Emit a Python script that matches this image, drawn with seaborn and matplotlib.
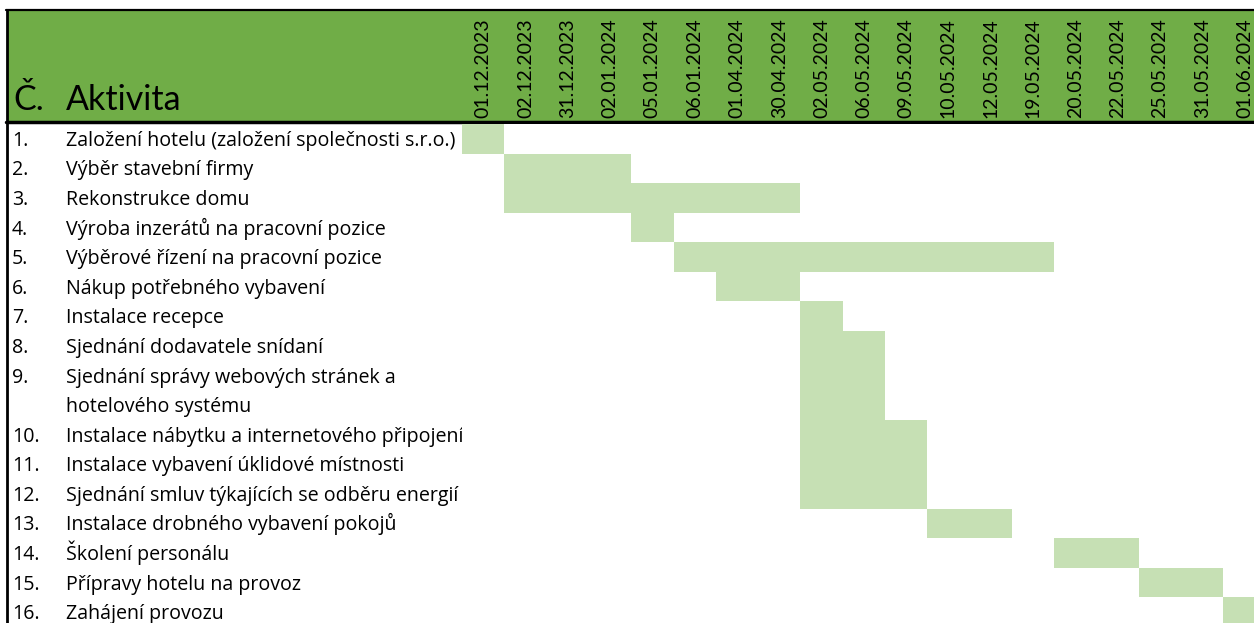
import matplotlib
matplotlib.use("Agg")
import matplotlib.pyplot as plt
import numpy as np
import pandas as pd
import seaborn as sns
from matplotlib.colors import ListedColormap
from matplotlib.patches import Rectangle
from matplotlib.lines import Line2D
from matplotlib.transforms import blended_transform_factory

# ---- schedule data -------------------------------------------------------
dates = ["01.12.2023", "02.12.2023", "31.12.2023", "02.01.2024", "05.01.2024",
         "06.01.2024", "01.04.2024", "30.04.2024", "02.05.2024", "06.05.2024",
         "09.05.2024", "10.05.2024", "12.05.2024", "19.05.2024", "20.05.2024",
         "22.05.2024", "25.05.2024", "31.05.2024", "01.06.2024"]

numbers = [f"{i}." for i in range(1, 17)]

activities = [
    "Založení hotelu (založení společnosti s.r.o.)",
    "Výběr stavební firmy",
    "Rekonstrukce domu",
    "Výroba inzerátů na pracovní pozice",
    "Výběrové řízení na pracovní pozice",
    "Nákup potřebného vybavení",
    "Instalace recepce",
    "Sjednání dodavatele snídaní",
    "Sjednání správy webových stránek a\nhotelového systému",
    "Instalace nábytku a internetového připojení",
    "Instalace vybavení úklidové místnosti",
    "Sjednání smluv týkajících se odběru energií",
    "Instalace drobného vybavení pokojů",
    "Školení personálu",
    "Přípravy hotelu na provoz",
    "Zahájení provozu",
]

start = ["01.12.2023", "02.12.2023", "02.12.2023", "05.01.2024", "06.01.2024",
         "01.04.2024", "02.05.2024", "02.05.2024", "02.05.2024", "02.05.2024",
         "02.05.2024", "02.05.2024", "10.05.2024", "20.05.2024", "25.05.2024",
         "01.06.2024"]

end = ["01.12.2023", "02.01.2024", "30.04.2024", "05.01.2024", "19.05.2024",
       "30.04.2024", "02.05.2024", "06.05.2024", "06.05.2024", "09.05.2024",
       "09.05.2024", "09.05.2024", "12.05.2024", "22.05.2024", "31.05.2024",
       "01.06.2024"]

# ---- build the cell matrix (one line of text = one grid row) ---------------
rows = []
for act, s, e in zip(activities, start, end):
    i0, i1 = dates.index(s), dates.index(e)
    flags = [1 if i0 <= k <= i1 else 0 for k in range(len(dates))]
    for _ in act.split("\n"):
        rows.append(flags)
grid = pd.DataFrame(rows, columns=dates)

# ---- styling ---------------------------------------------------------------
sns.set_theme(style="white")
plt.rcParams["font.family"] = ["Lato", "DejaVu Sans"]
BODY_FONT = ["Open Sans", "DejaVu Sans"]

HEADER_GREEN = "#70AD47"
BAR_GREEN = "#C6E0B4"

W, H = 1254, 623
fig = plt.figure(figsize=(W / 100, H / 100), dpi=100)
fig.patch.set_facecolor("white")

# canvas axes in pixel units for the table frame and header
base = fig.add_axes([0, 0, 1, 1])
base.set_xlim(0, W)
base.set_ylim(H, 0)
base.axis("off")

base.add_patch(Rectangle((7, 10.5), W, 111.5, facecolor=HEADER_GREEN,
                         edgecolor="none", zorder=1))
base.add_line(Line2D([6, W], [10.4, 10.4], color="black", lw=1.6, zorder=3))
base.add_line(Line2D([6, W], [122.4, 122.4], color="black", lw=2.5, zorder=3))
base.add_line(Line2D([6.7, 6.7], [10, H], color="black", lw=2.0, zorder=3))

base.text(13, 110, "Č.", fontsize=24.5, color="black", va="baseline",
          ha="left", zorder=4)
base.text(66, 110, "Aktivita", fontsize=24.5, color="black", va="baseline",
          ha="left", zorder=4)

# Gantt grid drawn as a heatmap
cell_w = 42.3
row_h = 29.58
n_rows = len(grid)
grid_top = 124
gantt = fig.add_axes([462 / W, 1 - (grid_top + n_rows * row_h) / H,
                      cell_w * len(dates) / W, n_rows * row_h / H])
sns.heatmap(grid, ax=gantt, cmap=ListedColormap(["white", BAR_GREEN]),
            vmin=0, vmax=1, cbar=False, linewidths=0,
            xticklabels=dates, yticklabels=False)
gantt.xaxis.tick_top()
gantt.tick_params(axis="x", length=0, pad=4.3)
for lbl in gantt.get_xticklabels():
    lbl.set_rotation(90)
    lbl.set_ha("center")
    lbl.set_va("bottom")
    lbl.set_fontsize(14)
    lbl.set_color("black")
gantt.set_xlabel("")
gantt.set_ylabel("")
for sp in gantt.spines.values():
    sp.set_visible(False)

# activity labels, placed on the grid rows
trans = blended_transform_factory(base.transData, gantt.transData)
r = 0
for num, act in zip(numbers, activities):
    lines = act.split("\n")
    base.text(12, r + 0.74, num, transform=trans, fontsize=14.1,
              family=BODY_FONT, va="baseline", ha="left", color="black",
              zorder=4)
    for k, line in enumerate(lines):
        base.text(66, r + k + 0.74, line, transform=trans, fontsize=14.1,
                  family=BODY_FONT, va="baseline", ha="left", color="black",
                  zorder=4)
    r += len(lines)

fig.savefig("out.png", dpi=100)
